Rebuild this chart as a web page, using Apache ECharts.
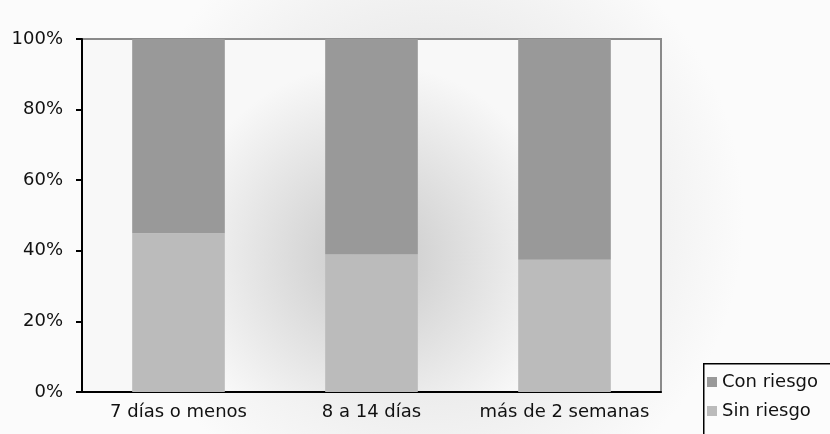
<!DOCTYPE html>
<html>
<head>
<meta charset="utf-8">
<script src="https://cdn.jsdelivr.net/npm/echarts@6/dist/echarts.min.js"></script>
<style>
html,body{margin:0;padding:0;background:#fff;}
#c{width:830px;height:434px;}
</style>
</head>
<body>
<div id="c"></div>
<script>
var categories = ['7 días o menos', '8 a 14 días', 'más de 2 semanas'];
var sinRiesgo = [45, 39, 37.5];
var conRiesgo = [55, 61, 62.5];
var yTicks = [0, 20, 40, 60, 80, 100];

var chart = echarts.init(document.getElementById('c'), null, {renderer: 'canvas'});
var font = '"DejaVu Sans", Verdana, sans-serif';
var legendText = {fontFamily: font, fontSize: 18, color: '#111'};
chart.setOption({
  backgroundColor: {
    type: 'radial', x: 0.52, y: 0.5, r: 0.72,
    colorStops: [{offset: 0, color: '#d6d6d6'}, {offset: 0.55, color: '#ececec'}, {offset: 1, color: '#fbfbfb'}]
  },
  animation: false,
  graphic: [{
    type: 'rect', left: 703, top: 363, z: 10,
    shape: {width: 160, height: 90},
    style: {fill: '#fcfcfc', stroke: '#000', lineWidth: 1.5}
  }],
  grid: {
    left: 82, right: 169, top: 39, bottom: 42,
    show: true,
    borderColor: '#8a8a8a', borderWidth: 2,
    backgroundColor: {
      type: 'radial', x: 0.5, y: 0.62, r: 0.55,
      colorStops: [{offset: 0, color: '#c8c8c8'}, {offset: 0.5, color: '#e0e0e0'}, {offset: 1, color: '#f8f8f8'}]
    }
  },
  legend: [{
    data: ['Con riesgo'],
    left: 707, top: 373, z: 20,
    padding: 0,
    itemWidth: 10, itemHeight: 10,
    itemGap: 0,
    icon: 'rect',
    textStyle: legendText
  }, {
    data: ['Sin riesgo'],
    left: 707, top: 402, z: 20,
    padding: 0,
    itemWidth: 10, itemHeight: 10,
    icon: 'rect',
    textStyle: legendText
  }],
  xAxis: {
    type: 'category',
    data: categories,
    axisLine: {lineStyle: {color: '#000', width: 2}},
    axisTick: {show: false},
    axisLabel: {fontFamily: font, fontSize: 18, color: '#111', margin: 11, interval: 0}
  },
  yAxis: {
    type: 'value',
    min: yTicks[0], max: yTicks[yTicks.length - 1], interval: 20,
    axisLine: {show: true, lineStyle: {color: '#000', width: 2}},
    axisTick: {show: true, length: 6, lineStyle: {color: '#000', width: 2}},
    splitLine: {show: false},
    axisLabel: {fontFamily: font, fontSize: 18, color: '#111', margin: 19, formatter: '{value}%'}
  },
  series: [
    {
      name: 'Sin riesgo', type: 'bar', stack: 's', data: sinRiesgo,
      barWidth: '48%',
      itemStyle: {color: '#bbbbbb'}
    },
    {
      name: 'Con riesgo', type: 'bar', stack: 's', data: conRiesgo,
      barWidth: '48%',
      itemStyle: {color: '#999999'}
    }
  ]
});
</script>
</body>
</html>
